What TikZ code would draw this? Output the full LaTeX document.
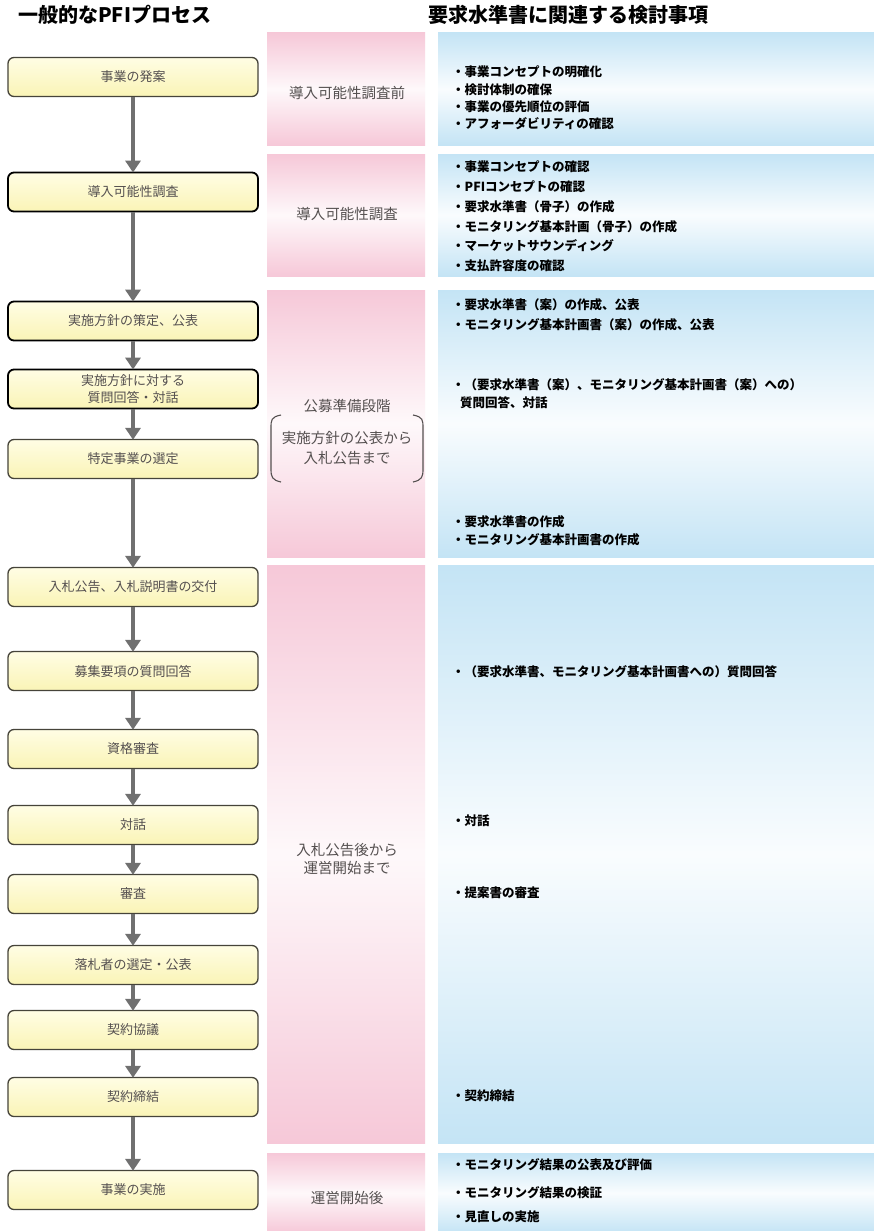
\documentclass[tikz,border=0pt]{standalone}
\usepackage{fontspec}
\setmainfont{Noto Sans CJK JP}
\usetikzlibrary{arrows.meta}
\definecolor{pinkc}{RGB}{246,200,216}
\definecolor{bluec}{RGB}{196,228,245}
\definecolor{boxtop}{RGB}{255,253,228}
\definecolor{boxbot}{RGB}{250,244,182}
\definecolor{boxline}{RGB}{70,68,58}
\definecolor{arrowc}{RGB}{112,112,112}
\definecolor{softtext}{RGB}{85,80,80}
\tikzset{
  pbox/.style={draw=boxline, line width=1.3pt, rounded corners=6pt, top color=boxtop, bottom color=boxbot,
    minimum width=250pt, minimum height=39pt, inner sep=2pt, align=center, text=softtext,
    font=\fontsize{13}{17}\selectfont},
  pboxk/.style={pbox, draw=black, line width=1.8pt},
  flow/.style={draw=arrowc, line width=4pt, -{Triangle[width=15pt,length=12pt]}, shorten >=-1pt},
  pinkseg/.style={anchor=north west, inner sep=0pt, outer sep=0pt, minimum width=158pt,
    top color=pinkc, bottom color=pinkc, middle color=pinkc!12},
  blueseg/.style={anchor=north west, inner sep=0pt, outer sep=0pt, minimum width=437pt,
    top color=bluec, bottom color=bluec, middle color=bluec!10},
  plabel/.style={text=softtext, align=center, font=\fontsize{14.5}{20}\selectfont},
  item/.style={anchor=west, align=left, inner sep=0pt, font=\fontsize{12.5}{17.3}\selectfont\bfseries},
  head/.style={anchor=west, inner sep=0pt, font=\fontsize{20}{23}\selectfont\bfseries}
}
\begin{document}
\begin{tikzpicture}[x=1pt,y=-1pt]
\useasboundingbox (0,0) rectangle (874,1231);
\fill[white] (0,0) rectangle (874,1231);
% headers
\node[head] (h1) at (18,15) {一般的なPFIプロセス};
\node[head] (h2) at (428,15) {要求水準書に関連する検討事項};
% pink column
\node[pinkseg, minimum height=112pt] (p1) at (267,33) {};
\node[pinkseg, minimum height=122pt] (p2) at (267,154) {};
\node[pinkseg, minimum height=267pt] (p3) at (267,290) {};
\node[pinkseg, minimum height=578pt] (p4) at (267,565) {};
\node[pinkseg, minimum height=80pt] (p5) at (267,1153) {};
% blue column
\node[blueseg, minimum height=112pt] (q1) at (438,33) {};
\node[blueseg, minimum height=122pt] (q2) at (438,154) {};
\node[blueseg, minimum height=267pt] (q3) at (438,290) {};
\node[blueseg, minimum height=578pt] (q4) at (438,565) {};
\node[blueseg, minimum height=80pt] (q5) at (438,1153) {};
% pink labels
\node[plabel] (l1) at (347,93) {導入可能性調査前};
\node[plabel] (l2) at (347,214) {導入可能性調査};
\node[plabel] (l3) at (347,406) {公募準備段階};
\node[plabel] (l3b) at (347,448) {実施方針の公表から\\入札公告まで};
\node[plabel, font=\fontsize{14.5}{18.5}\selectfont] (l4) at (347,859) {入札公告後から\\運営開始まで};
\node[plabel] (l5) at (347,1198) {運営開始後};
\draw[softtext, line width=1.1pt] (281,415) .. controls (271,417) and (271,420) .. (271,428) -- (271,469) .. controls (271,477) and (272,480) .. (281,482);
\draw[softtext, line width=1.1pt] (413,415) .. controls (423,417) and (423,420) .. (423,428) -- (423,469) .. controls (423,477) and (422,480) .. (413,482);
% right items
\node[item] (t1) at (452,98) {・事業コンセプトの明確化\\・検討体制の確保\\・事業の優先順位の評価\\・アフォーダビリティの確認};
\node[item, font=\fontsize{12.5}{19.8}\selectfont\bfseries] (t2) at (452,216.5) {・事業コンセプトの確認\\・PFIコンセプトの確認\\・要求水準書（骨子）の作成\\・モニタリング基本計画（骨子）の作成\\・マーケットサウンディング\\・支払許容度の確認};
\node[item, font=\fontsize{12.5}{20}\selectfont\bfseries] (t3) at (452,315) {・要求水準書（案）の作成、公表\\・モニタリング基本計画書（案）の作成、公表};
\node[item, font=\fontsize{12.5}{18}\selectfont\bfseries] (t4) at (452,394) {・（要求水準書（案）、モニタリング基本計画書（案）への）\\\hspace*{8pt}質問回答、対話};
\node[item, font=\fontsize{12.5}{18}\selectfont\bfseries] (t5) at (452,531) {・要求水準書の作成\\・モニタリング基本計画書の作成};
\node[item] (t6) at (452,672) {・（要求水準書、モニタリング基本計画書への）質問回答};
\node[item] (t7) at (452,821) {・対話};
\node[item] (t8) at (452,893) {・提案書の審査};
\node[item] (t9) at (452,1096) {・契約締結};
\node[item] (t10) at (452,1165) {・モニタリング結果の公表及び評価};
\node[item] (t11) at (452,1193) {・モニタリング結果の検証};
\node[item] (t12) at (452,1217) {・見直しの実施};
% process boxes
\node[pbox] (b1) at (133,77) {事業の発案};
\node[pboxk] (b2) at (133,192) {導入可能性調査};
\node[pboxk] (b3) at (133,321) {実施方針の策定、公表};
\node[pboxk, font=\fontsize{13}{16.5}\selectfont] (b4) at (133,389) {実施方針に対する\\質問回答・対話};
\node[pbox] (b5) at (133,459) {特定事業の選定};
\node[pbox] (b6) at (133,587) {入札公告、入札説明書の交付};
\node[pbox] (b7) at (133,671) {募集要項の質問回答};
\node[pbox] (b8) at (133,749) {資格審査};
\node[pbox] (b9) at (133,825) {対話};
\node[pbox] (b10) at (133,894) {審査};
\node[pbox] (b11) at (133,965) {落札者の選定・公表};
\node[pbox] (b12) at (133,1030) {契約協議};
\node[pbox] (b13) at (133,1097) {契約締結};
\node[pbox] (b14) at (133,1190) {事業の実施};
% arrows
\foreach \a/\b in {b1/b2,b2/b3,b3/b4,b4/b5,b5/b6,b6/b7,b7/b8,b8/b9,b9/b10,b10/b11,b11/b12,b12/b13,b13/b14}
  \draw[flow] (\a.south) -- (\b.north);
\end{tikzpicture}
\end{document}
